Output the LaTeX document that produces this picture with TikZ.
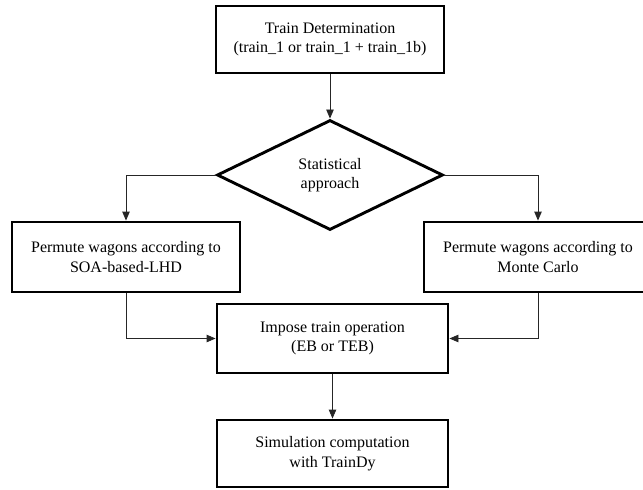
\documentclass[tikz,border=0pt]{standalone}
\usepackage{fontspec}
\setmainfont{Liberation Serif}
\usetikzlibrary{shapes.geometric,arrows.meta}
\begin{document}
\begin{tikzpicture}[x=1pt,y=-1pt,
  box/.style={draw=black,line width=2.9pt,fill=white,minimum width=228pt,inner sep=0pt,align=center,font=\fontsize{16}{19.5}\selectfont},
  dec/.style={draw=black,line width=2.9pt,shape=diamond,aspect=2.05,minimum width=226pt,minimum height=110pt,inner sep=0pt,align=center,font=\fontsize{16}{19.5}\selectfont},
  arr/.style={-{Triangle[length=9pt,width=7.5pt]},line width=0.9pt,draw=black!85}]
\useasboundingbox (0,0) rectangle (643,490);
\fill[white] (0,0) rectangle (643,490);
\node[box,minimum height=67pt] (top) at (330,39.5) {Train Determination\\(train\_1 or train\_1 + train\_1b)};
\node[dec] (dia) at (330,175) {Statistical\\approach};
\node[box,minimum height=70pt] (left) at (126,257) {Permute wagons according to\\SOA-based-LHD};
\node[box,minimum height=70pt] (right) at (538,257) {Permute wagons according to\\Monte Carlo};
\node[box,minimum height=69pt,minimum width=231pt] (mid) at (332.5,338.5) {Impose train operation\\(EB or TEB)};
\node[box,minimum height=67pt,minimum width=231pt] (bot) at (332.5,453.5) {Simulation computation\\with TrainDy};
\draw[arr] (top) -- (dia);
\draw[arr] (dia.west) -| (left.north);
\draw[arr] (dia.east) -| (right.north);
\draw[arr] (left.south) |- (mid.west);
\draw[arr] (right.south) |- (mid.east);
\draw[arr] (mid) -- (bot);
\end{tikzpicture}
\end{document}
